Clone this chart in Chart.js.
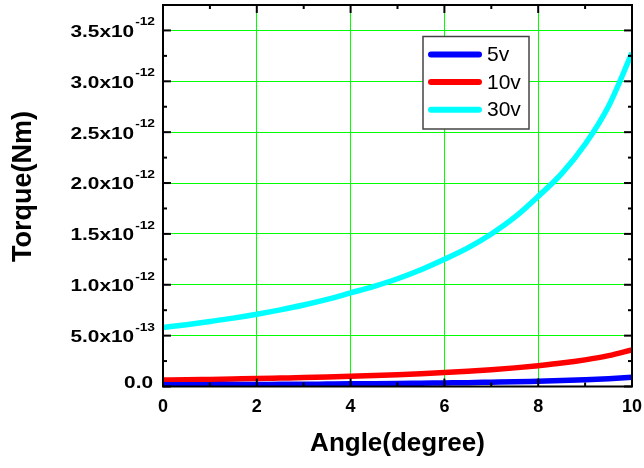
<!DOCTYPE html>
<html lang="en">
<head>
<meta charset="UTF-8" />
<title>Torque vs Angle</title>
<style>
  html, body { margin: 0; padding: 0; background: #fff; }
  #wrap { width: 644px; height: 468px; }
</style>
<script src="https://cdn.jsdelivr.net/npm/chart.js"></script>
</head>
<body>
<div id="wrap"><canvas id="torqueChart" width="644" height="468"></canvas></div>
<script>
  // angle in degrees
  const angles = [0, 0.5, 1, 1.5, 2, 2.5, 3, 3.5, 4, 4.5, 5, 5.5, 6, 6.5, 7, 7.5, 8, 8.5, 9, 9.5, 10];

  // torque values, in units of 1e-12 Nm
  const torque5v = [0.016, 0.017, 0.018, 0.019, 0.020, 0.021, 0.022, 0.024, 0.026, 0.027, 0.029,
    0.032, 0.035, 0.038, 0.042, 0.046, 0.052, 0.058, 0.066, 0.076, 0.090];
  const torque10v = [0.063, 0.066, 0.070, 0.074, 0.078, 0.083, 0.088, 0.094, 0.101, 0.108, 0.116,
    0.126, 0.137, 0.150, 0.165, 0.183, 0.205, 0.230, 0.262, 0.303, 0.360];
  const torque30v = [0.58, 0.608, 0.639, 0.672, 0.71, 0.753, 0.801, 0.856, 0.92, 0.985, 1.059,
    1.147, 1.25, 1.362, 1.499, 1.664, 1.869, 2.092, 2.381, 2.755, 3.279];

  const seriesLabels = ["5v", "10v", "30v"];
  const seriesColors = ["#0000ff", "#ff0000", "#00ffff"];
  const seriesData = [torque5v, torque10v, torque30v];

  // minor tick positions (major ones come from the scales)
  const xMinorTicks = [1, 3, 5, 7, 9];
  const yMinorTicks = [0.25, 0.75, 1.25, 1.75, 2.25, 2.75, 3.25];

  const FONT = "Arial, 'Liberation Sans', sans-serif";

  function seg(ctx, x1, y1, x2, y2) {
    ctx.beginPath();
    ctx.moveTo(x1, y1);
    ctx.lineTo(x2, y2);
    ctx.stroke();
  }

  function isMajorY(v) {
    const k = v / 0.5;
    return Math.abs(k - Math.round(k)) < 1e-6;
  }

  function drawYLabel(ctx, v, py) {
    const right = 155;
    ctx.fillStyle = "#000";
    ctx.textAlign = "right";
    ctx.textBaseline = "middle";
    if (Math.abs(v) < 1e-9) {
      ctx.font = "bold 16px " + FONT;
      ctx.save();
      ctx.translate(right - 2, py - 3);
      ctx.scale(1.3, 1);
      ctx.fillText("0.0", 0, 0);
      ctx.restore();
      return;
    }
    const e = Math.floor(Math.log10(v) + 1e-9);
    const mant = (v / Math.pow(10, e)).toFixed(1);
    const exp = String(e - 12);
    ctx.font = "bold 11px " + FONT;
    const supW = ctx.measureText(exp).width * 1.25;
    ctx.save();
    ctx.translate(right, py - 8);
    ctx.scale(1.25, 1);
    ctx.fillText(exp, 0, 0);
    ctx.restore();
    ctx.font = "bold 16px " + FONT;
    ctx.save();
    ctx.translate(right - supW - 1, py + 2);
    ctx.scale(1.3, 1);
    ctx.fillText(mant + "x10", 0, 0);
    ctx.restore();
  }

  const framePlugin = {
    id: "framePlugin",
    afterDraw(chart) {
      const { ctx, chartArea: a } = chart;
      const x = chart.scales.x;
      const y = chart.scales.y;
      ctx.save();
      ctx.strokeStyle = "#000";
      ctx.lineWidth = 2;

      // inward tick marks on all four sides
      y.ticks.forEach((t) => {
        if (!isMajorY(t.value)) return;
        const py = y.getPixelForValue(t.value);
        seg(ctx, a.left, py, a.left + 8, py);
        seg(ctx, a.right, py, a.right - 8, py);
        drawYLabel(ctx, t.value, py);
      });
      yMinorTicks.forEach((v) => {
        const py = y.getPixelForValue(v);
        seg(ctx, a.left, py, a.left + 4, py);
        seg(ctx, a.right, py, a.right - 4, py);
      });
      x.ticks.forEach((t) => {
        const px = x.getPixelForValue(t.value);
        seg(ctx, px, a.bottom, px, a.bottom - 8);
        seg(ctx, px, a.top, px, a.top + 8);
      });
      xMinorTicks.forEach((v) => {
        const px = x.getPixelForValue(v);
        seg(ctx, px, a.bottom, px, a.bottom - 4);
        seg(ctx, px, a.top, px, a.top + 4);
      });

      ctx.strokeRect(a.left, a.top, a.right - a.left, a.bottom - a.top);

      // y axis title
      ctx.save();
      ctx.translate(24, 186.5);
      ctx.rotate(-Math.PI / 2);
      ctx.font = "bold 27px " + FONT;
      ctx.fillStyle = "#000";
      ctx.textAlign = "center";
      ctx.textBaseline = "middle";
      ctx.fillText("Torque(Nm)", 0, 0);
      ctx.restore();

      // legend box
      const lx = a.left + 260;
      const ly = a.top + 31.5;
      ctx.fillStyle = "#fff";
      ctx.fillRect(lx, ly, 106, 92.5);
      ctx.strokeStyle = "#444";
      ctx.lineWidth = 1.5;
      ctx.strokeRect(lx, ly, 106, 92.5);
      chart.data.datasets.forEach((ds, i) => {
        const ry = ly + 18 + i * 27.6;
        ctx.strokeStyle = ds.borderColor;
        ctx.lineWidth = 6;
        ctx.lineCap = "round";
        seg(ctx, lx + 8, ry, lx + 56, ry);
        ctx.fillStyle = "#000";
        ctx.font = "21px " + FONT;
        ctx.textAlign = "left";
        ctx.textBaseline = "middle";
        ctx.fillText(ds.label, lx + 64, ry + 1);
      });
      ctx.restore();
    },
  };

  new Chart(document.getElementById("torqueChart").getContext("2d"), {
    type: "line",
    data: {
      datasets: seriesLabels.map((label, i) => ({
        label: label,
        data: angles.map((a, j) => ({ x: a, y: seriesData[i][j] })),
        borderColor: seriesColors[i],
        borderWidth: 5.5,
        pointRadius: 0,
        cubicInterpolationMode: "monotone",
        clip: 0,
      })),
    },
    options: {
      responsive: false,
      animation: false,
      devicePixelRatio: 1,
      layout: { padding: { left: 10, right: 12, top: 5, bottom: 9 } },
      plugins: { legend: { display: false }, tooltip: { enabled: false } },
      scales: {
        x: {
          type: "linear",
          min: 0,
          max: 10,
          afterFit: (s) => {
            s.height = 72.5;
            s.paddingLeft = 0;
            s.paddingRight = 0;
          },
          ticks: {
            stepSize: 2,
            autoSkip: false,
            maxRotation: 0,
            padding: 10,
            color: "#000",
            font: { family: FONT, size: 18, weight: "bold" },
          },
          grid: { color: "#00ff00", lineWidth: 1, drawTicks: false },
          border: { display: false },
          title: {
            display: true,
            text: "Angle(degree)",
            color: "#000",
            padding: { top: 0, bottom: 0 },
            font: { family: FONT, size: 26, weight: "bold" },
          },
        },
        y: {
          min: 0,
          max: 3.75,
          afterFit: (s) => {
            s.width = 153;
            s.paddingTop = 0;
            s.paddingBottom = 0;
          },
          ticks: { stepSize: 0.5, display: false },
          grid: { color: "#00ff00", lineWidth: 1, drawTicks: false },
          border: { display: false },
        },
      },
    },
    plugins: [framePlugin],
  });
</script>
</body>
</html>
